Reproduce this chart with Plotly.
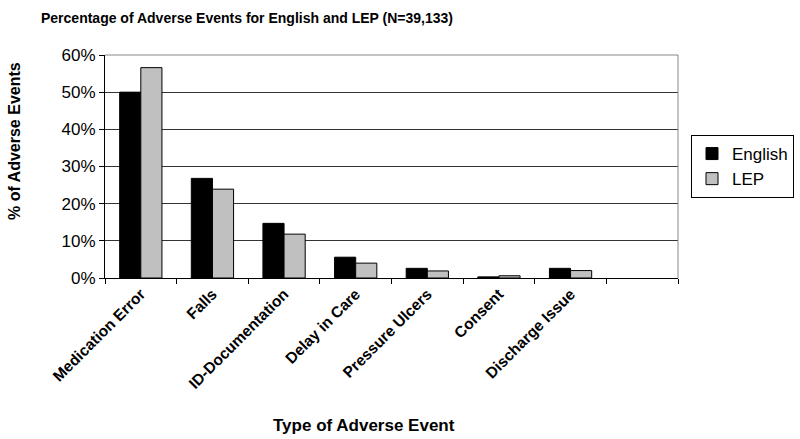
import plotly.graph_objects as go

categories = ["Medication Error", "Falls", "ID-Documentation", "Delay in Care",
              "Pressure Ulcers", "Consent", "Discharge Issue", " "]
english = [50.0, 26.8, 14.7, 5.6, 2.6, 0.3, 2.6, None]
lep = [56.6, 23.9, 11.8, 4.0, 1.9, 0.6, 2.0, None]
y_ticks = [0, 10, 20, 30, 40, 50, 60]
y_tick_labels = ["0%", "10%", "20%", "30%", "40%", "50%", "60%"]

FONT = "Liberation Sans, Arial, sans-serif"

fig = go.Figure()
fig.add_trace(go.Bar(name="English", x=categories, y=english,
                     marker=dict(color="#000000", line=dict(color="#000000", width=1))))
fig.add_trace(go.Bar(name="LEP", x=categories, y=lep,
                     marker=dict(color="#c0c0c0", line=dict(color="#000000", width=1))))

fig.update_layout(
    width=800, height=439,
    margin=dict(l=105, r=122, t=55, b=161, autoexpand=False),
    paper_bgcolor="white", plot_bgcolor="white",
    barmode="group", bargap=0.41, bargroupgap=0,
    font=dict(family=FONT, color="#000000"),
    title=dict(text="<b>Percentage of Adverse Events for English and LEP (N=39,133)</b>",
               x=41/800, xanchor="left", xref="container",
               y=1 - 18/439, yanchor="middle", yref="container",
               font=dict(family=FONT, size=14)),
    legend=dict(x=691/800, y=1 - 135/439, xref="container", yref="container",
                xanchor="left", yanchor="top",
                bordercolor="#000000", borderwidth=1, bgcolor="white",
                font=dict(size=17), itemwidth=30,
                tracegroupgap=2),
    xaxis=dict(categoryorder="array", categoryarray=categories,
               tickangle=-45, tickfont=dict(size=15.5, family=FONT, weight="bold"),
               showline=True, linecolor="#000000", linewidth=1,
               ticks="outside", tickson="boundaries", ticklen=5, tickcolor="#000000",
               showgrid=False),
    yaxis=dict(range=[0, 60], tickvals=y_ticks, ticktext=y_tick_labels,
               tickfont=dict(size=17),
               showline=True, linecolor="#000000", linewidth=1,
               ticks="outside", ticklen=5, tickcolor="#000000",
               showgrid=True, gridcolor="#333333", gridwidth=1, zeroline=False),
    showlegend=True,
)

fig.add_shape(type="line", xref="paper", yref="paper", x0=1, x1=1, y0=0, y1=1,
              line=dict(color="#888888", width=1))
fig.add_shape(type="line", xref="paper", yref="paper", x0=0, x1=1, y0=1, y1=1,
              line=dict(color="#888888", width=1))

fig.add_annotation(text="<b>% of Adverse Events</b>", textangle=-90,
                   xref="paper", yref="paper", x=(14-105)/573, y=(278-141)/223,
                   xanchor="center", yanchor="middle", showarrow=False,
                   font=dict(size=16))
fig.add_annotation(text="<b>Type of Adverse Event</b>",
                   xref="paper", yref="paper", x=(364-105)/573, y=(278-425)/223,
                   xanchor="center", yanchor="middle", showarrow=False,
                   font=dict(size=17))

fig.write_html("out.html", config={"displayModeBar": False},
               post_script="document.body.style.margin='0';document.body.style.padding='0';")
